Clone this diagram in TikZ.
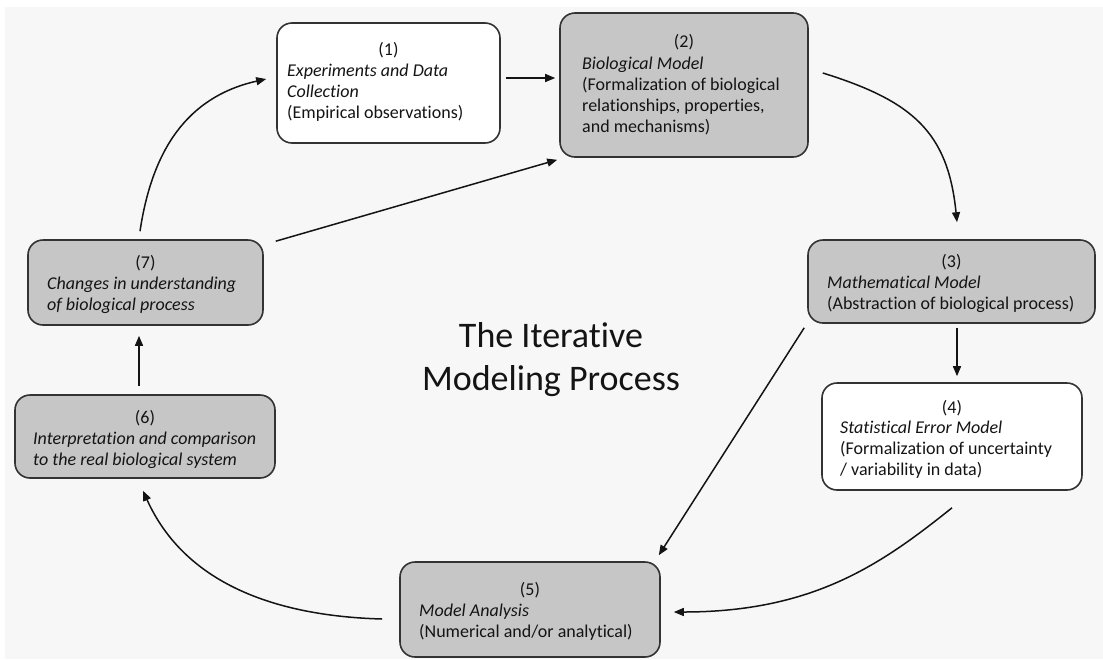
\documentclass[tikz,border=0pt]{standalone}
\usepackage{fontspec}
\setmainfont{Carlito}[Ligatures=NoCommon]
\usetikzlibrary{arrows.meta,calc}
\definecolor{bg}{HTML}{F7F7F7}
\definecolor{boxgray}{HTML}{C6C6C6}
\definecolor{edge}{HTML}{333333}
\definecolor{ink}{HTML}{141414}
\begin{document}
\begin{tikzpicture}[x=1pt,y=-1pt,
  box/.style={draw=edge, line width=1.6pt, rounded corners=15pt, inner sep=0pt},
  graybox/.style={box, fill=boxgray},
  whitebox/.style={box, fill=white},
  num/.style={anchor=base, inner sep=0pt, font=\fontsize{18}{21}\selectfont, text=ink},
  body/.style={anchor=base west, inner sep=0pt, align=left, font=\fontsize{18}{21}\selectfont, text=ink},
  arr/.style={draw=ink, line width=1.5pt, -{Triangle[length=10pt,width=8pt]}}]
\useasboundingbox (0,0) rectangle (1103,659);
\fill[bg] (5,7) rectangle (1103,659);

% boxes
\node[whitebox, minimum width=223pt, minimum height=120pt] (b1) at (388.5,83) {};
\node[graybox,  minimum width=248pt, minimum height=144pt] (b2) at (684,85) {};
\node[graybox,  minimum width=287pt, minimum height=83pt]  (b3) at (951.5,281.5) {};
\node[whitebox, minimum width=260pt, minimum height=107pt] (b4) at (952,436.5) {};
\node[graybox,  minimum width=260pt, minimum height=95pt]  (b5) at (530,609.5) {};
\node[graybox,  minimum width=260pt, minimum height=83pt]  (b6) at (145,436.5) {};
\node[graybox,  minimum width=235pt, minimum height=85pt]  (b7) at (145.5,282.5) {};

% texts (body anchors sit on the baseline of the last line)
\node[num] (n1) at (388.5,55) {(1)};
\node[body] (t1) at (287,118) {\textit{Experiments and Data}\\\textit{Collection}\\(Empirical observations)};
\node[num] (n2) at (684,47) {(2)};
\node[body] (t2) at (582,132) {\textit{Biological Model}\\(Formalization of biological\\relationships, properties,\\and mechanisms)};
\node[num] (n3) at (951.5,267) {(3)};
\node[body] (t3) at (827,309) {\textit{Mathematical Model}\\(Abstraction of biological process)};
\node[num] (n4) at (952,413) {(4)};
\node[body] (t4) at (840,475) {\textit{Statistical Error Model}\\(Formalization of uncertainty\\/ variability in data)};
\node[num] (n5) at (530,595) {(5)};
\node[body] (t5) at (419,637) {\textit{Model Analysis}\\(Numerical and/or analytical)};
\node[num] (n6) at (145,423) {(6)};
\node[body] (t6) at (33,465) {\textit{Interpretation and comparison}\\\textit{to the real biological system}};
\node[num] (n7) at (145.5,268) {(7)};
\node[body] (t7) at (47,310) {\textit{Changes in understanding}\\\textit{of biological process}};

\node[align=center, inner sep=0pt, anchor=base, text=ink, font=\fontsize{36}{43}\selectfont] (title) at (551,390) {The Iterative\\Modeling Process};

% connectors
\draw[arr] ([shift={(5,-5)}]b1.east) -- ([shift={(-4,-7)}]b2.west);
\draw[arr] ([shift={(14,-12)}]b2.east) .. controls +(90,28) and +(-9,-90) .. ([shift={(5.5,-17)}]b3.north);
\draw[arr] ([shift={(5.5,4)}]b3.south) -- ([shift={(5,-6)}]b4.north);
\draw[arr] ([shift={(-3,4)}]b3.south west) -- ([shift={(-2,-6)}]b5.north east);
\draw[arr] ([shift={(0,17)}]b4.south) .. controls +(-70,56) and +(140,0) .. ([shift={(13,2.5)}]b5.east);
\draw[arr] ([shift={(-17,9.5)}]b5.west) .. controls +(-110,-3) and +(41,91) .. ([shift={(-2,12)}]b6.south);
\draw[arr] ([shift={(-6,-8)}]b6.north) -- ([shift={(-6.5,10)}]b7.south);
\draw[arr] ([shift={(-5.5,-8)}]b7.north) .. controls +(12,-80) and +(-80,18) .. ([shift={(-10,-4)}]b1.west);
\draw[arr] ([shift={(12,2)}]b7.north east) -- ([shift={(-2,2)}]b2.south west);
\end{tikzpicture}
\end{document}
